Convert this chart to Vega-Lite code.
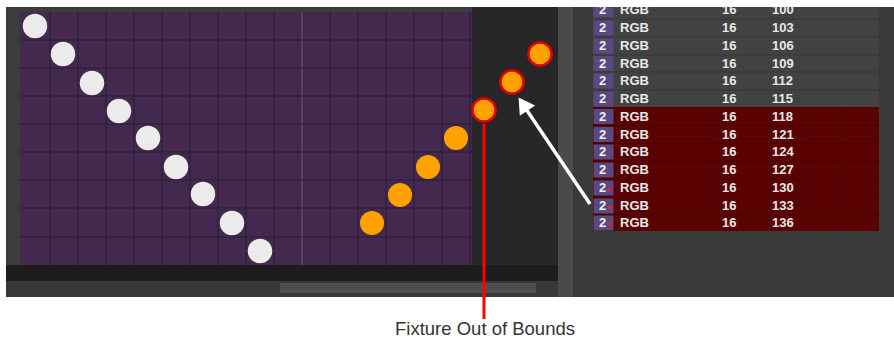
{
  "$schema": "https://vega.github.io/schema/vega-lite/v6.json",
  "width": 894,
  "height": 341,
  "autosize": {"type": "fit", "contains": "padding"},
  "padding": 0,
  "background": "#ffffff",
  "config": {"view": {"stroke": null}},
  "datasets": {
    "areas": [
      {"x": 6, "x2": 894, "y": 7, "y2": 297, "part": "frame"},
      {"x": 6, "x2": 20, "y": 7, "y2": 265, "part": "ruler"},
      {"x": 20, "x2": 472, "y": 7, "y2": 12, "part": "ruler"},
      {"x": 20, "x2": 472, "y": 12, "y2": 265, "part": "canvas"},
      {"x": 6, "x2": 558, "y": 265, "y2": 281, "part": "band"},
      {"x": 6, "x2": 558, "y": 281, "y2": 297, "part": "track"},
      {"x": 280, "x2": 536, "y": 283, "y2": 293, "part": "thumb"},
      {"x": 558, "x2": 573, "y": 7, "y2": 297, "part": "divider"},
      {"x": 573, "x2": 894, "y": 7, "y2": 297, "part": "panel"},
      {"x": 593, "x2": 879, "y": 7, "y2": 107, "part": "grayrows"},
      {"x": 593, "x2": 879, "y": 107, "y2": 231, "part": "redrows"}
    ],
    "gridV": [
      {"x": 50}, {"x": 78}, {"x": 106}, {"x": 134}, {"x": 162}, {"x": 190}, {"x": 218}, {"x": 246},
      {"x": 274}, {"x": 330}, {"x": 358}, {"x": 386}, {"x": 414}, {"x": 442}, {"x": 470}
    ],
    "gridH": [
      {"y": 40}, {"y": 68}, {"y": 96}, {"y": 124}, {"y": 152}, {"y": 180}, {"y": 208}, {"y": 237}
    ],
    "rowLinesGray": [{"y": 19}, {"y": 37}, {"y": 55}, {"y": 72}, {"y": 90}],
    "rowLinesRed": [{"y": 125.5}, {"y": 143.5}, {"y": 161}, {"y": 179}, {"y": 197}, {"y": 214.5}],
    "colLines": [{"x": 717}, {"x": 769}, {"x": 807}, {"x": 844}],
    "whiteDots": [
      {"x": 35, "y": 26}, {"x": 63, "y": 54}, {"x": 92, "y": 83}, {"x": 119, "y": 111},
      {"x": 148, "y": 138}, {"x": 176, "y": 167}, {"x": 203, "y": 194}, {"x": 232, "y": 223}, {"x": 260, "y": 251}
    ],
    "orangeDots": [
      {"x": 372, "y": 223}, {"x": 400, "y": 195}, {"x": 428, "y": 167}, {"x": 456, "y": 138}
    ],
    "outDots": [
      {"x": 484, "y": 110}, {"x": 512, "y": 82}, {"x": 540, "y": 54}
    ],
    "rows": [
      {"n": "2", "type": "RGB", "ch": "16", "addr": "100", "y": 10, "oob": "no"},
      {"n": "2", "type": "RGB", "ch": "16", "addr": "103", "y": 28, "oob": "no"},
      {"n": "2", "type": "RGB", "ch": "16", "addr": "106", "y": 46, "oob": "no"},
      {"n": "2", "type": "RGB", "ch": "16", "addr": "109", "y": 63.5, "oob": "no"},
      {"n": "2", "type": "RGB", "ch": "16", "addr": "112", "y": 81, "oob": "no"},
      {"n": "2", "type": "RGB", "ch": "16", "addr": "115", "y": 99, "oob": "no"},
      {"n": "2", "type": "RGB", "ch": "16", "addr": "118", "y": 116.5, "oob": "no"},
      {"n": "2", "type": "RGB", "ch": "16", "addr": "121", "y": 134.5, "oob": "no"},
      {"n": "2", "type": "RGB", "ch": "16", "addr": "124", "y": 152, "oob": "no"},
      {"n": "2", "type": "RGB", "ch": "16", "addr": "127", "y": 170, "oob": "no"},
      {"n": "2", "type": "RGB", "ch": "16", "addr": "130", "y": 188, "oob": "yes"},
      {"n": "2", "type": "RGB", "ch": "16", "addr": "133", "y": 206, "oob": "yes"},
      {"n": "2", "type": "RGB", "ch": "16", "addr": "136", "y": 223, "oob": "yes"}
    ],
    "arrow": [{"x": 590, "y": 204, "x2": 524, "y2": 106}],
    "arrowHead": [{"x": 523, "y": 104}],
    "boundsLine": [{"x": 484, "y": 124, "y2": 319}],
    "label": [{"x": 485, "y": 329, "text": "Fixture Out of Bounds"}],
    "topMask": [{"x": 0, "x2": 894, "y": 0, "y2": 7}]
  },
  "layer": [
    {
      "data": {"name": "areas"},
      "mark": {"type": "rect"},
      "encoding": {
        "x": {"field": "x", "type": "quantitative", "scale": {"domain": [0, 894], "nice": false, "zero": false}, "axis": null},
        "y": {"field": "y", "type": "quantitative", "scale": {"domain": [0, 341], "nice": false, "zero": false, "reverse": true}, "axis": null},
        "x2": {"field": "x2"},
        "y2": {"field": "y2"},
        "color": {
          "field": "part", "type": "nominal", "legend": null,
          "scale": {
            "domain": ["frame", "ruler", "canvas", "band", "track", "thumb", "divider", "panel", "grayrows", "redrows"],
            "range": ["#272727", "#3b3d3c", "#42294d", "#1d1d1d", "#383838", "#4e4e4e", "#4a4a4a", "#3a3a3a", "#424242", "#5a0202"]
          }
        }
      }
    },
    {
      "data": {"name": "gridV"},
      "mark": {"type": "rule", "color": "#2e1d37", "strokeWidth": 1},
      "encoding": {
        "x": {"field": "x", "type": "quantitative"},
        "y": {"datum": 12, "type": "quantitative"},
        "y2": {"datum": 265}
      }
    },
    {
      "data": {"values": [{"x": 302}]},
      "mark": {"type": "rule", "color": "#6b5a74", "strokeWidth": 1},
      "encoding": {
        "x": {"field": "x", "type": "quantitative"},
        "y": {"datum": 12, "type": "quantitative"},
        "y2": {"datum": 265}
      }
    },
    {
      "data": {"name": "gridH"},
      "mark": {"type": "rule", "color": "#2e1d37", "strokeWidth": 1},
      "encoding": {
        "y": {"field": "y", "type": "quantitative"},
        "x": {"datum": 20, "type": "quantitative"},
        "x2": {"datum": 472}
      }
    },
    {
      "data": {"name": "rowLinesGray"},
      "mark": {"type": "rule", "color": "#363636", "strokeWidth": 1},
      "encoding": {
        "y": {"field": "y", "type": "quantitative"},
        "x": {"datum": 593, "type": "quantitative"},
        "x2": {"datum": 879}
      }
    },
    {
      "data": {"name": "rowLinesRed"},
      "mark": {"type": "rule", "color": "#470000", "strokeWidth": 1},
      "encoding": {
        "y": {"field": "y", "type": "quantitative"},
        "x": {"datum": 593, "type": "quantitative"},
        "x2": {"datum": 879}
      }
    },
    {
      "data": {"name": "colLines"},
      "mark": {"type": "rule", "color": "#4a0a0a", "strokeWidth": 1},
      "encoding": {
        "x": {"field": "x", "type": "quantitative"},
        "y": {"datum": 107, "type": "quantitative"},
        "y2": {"datum": 231}
      }
    },
    {
      "data": {"name": "rows"},
      "mark": {"type": "rect", "width": 20, "height": 15, "color": "#5a4880"},
      "encoding": {
        "x": {"datum": 603.5, "type": "quantitative"},
        "y": {"field": "y", "type": "quantitative"}
      }
    },
    {
      "data": {"name": "rows"},
      "mark": {"type": "text", "font": "Liberation Sans", "fontWeight": "bold", "fontSize": 13, "color": "#f2f2f2", "align": "center", "baseline": "middle"},
      "encoding": {
        "x": {"datum": 602.5, "type": "quantitative"},
        "y": {"field": "y", "type": "quantitative"},
        "text": {"field": "n"}
      }
    },
    {
      "data": {"name": "rows"},
      "transform": [{"filter": "datum.oob == 'yes'"}],
      "mark": {"type": "point", "shape": "triangle-down", "filled": true, "size": 22, "color": "#ff2020", "opacity": 1, "yOffset": 2},
      "encoding": {
        "x": {"datum": 609, "type": "quantitative"},
        "y": {"field": "y", "type": "quantitative"}
      }
    },
    {
      "data": {"name": "rows"},
      "mark": {"type": "text", "font": "Liberation Sans", "fontWeight": "bold", "fontSize": 13, "color": "#e8e8e8", "align": "left", "baseline": "middle"},
      "encoding": {
        "x": {"datum": 620, "type": "quantitative"},
        "y": {"field": "y", "type": "quantitative"},
        "text": {"field": "type"}
      }
    },
    {
      "data": {"name": "rows"},
      "mark": {"type": "text", "font": "Liberation Sans", "fontWeight": "bold", "fontSize": 13, "color": "#e8e8e8", "align": "left", "baseline": "middle"},
      "encoding": {
        "x": {"datum": 722, "type": "quantitative"},
        "y": {"field": "y", "type": "quantitative"},
        "text": {"field": "ch"}
      }
    },
    {
      "data": {"name": "rows"},
      "mark": {"type": "text", "font": "Liberation Sans", "fontWeight": "bold", "fontSize": 13, "color": "#e8e8e8", "align": "left", "baseline": "middle"},
      "encoding": {
        "x": {"datum": 772, "type": "quantitative"},
        "y": {"field": "y", "type": "quantitative"},
        "text": {"field": "addr"}
      }
    },
    {
      "data": {"name": "whiteDots"},
      "mark": {"type": "point", "shape": "circle", "filled": true, "size": 600, "color": "#ebebeb", "opacity": 1},
      "encoding": {
        "x": {"field": "x", "type": "quantitative"},
        "y": {"field": "y", "type": "quantitative"}
      }
    },
    {
      "data": {"name": "orangeDots"},
      "mark": {"type": "point", "shape": "circle", "filled": true, "size": 580, "color": "#ffa200", "opacity": 1},
      "encoding": {
        "x": {"field": "x", "type": "quantitative"},
        "y": {"field": "y", "type": "quantitative"}
      }
    },
    {
      "data": {"name": "boundsLine"},
      "mark": {"type": "rule", "color": "#ff0000", "strokeWidth": 3},
      "encoding": {
        "x": {"field": "x", "type": "quantitative"},
        "y": {"field": "y", "type": "quantitative"},
        "y2": {"field": "y2"}
      }
    },
    {
      "data": {"name": "outDots"},
      "mark": {"type": "point", "shape": "circle", "filled": true, "size": 540, "fill": "#ffa200", "stroke": "#e00000", "strokeWidth": 2.5, "opacity": 1},
      "encoding": {
        "x": {"field": "x", "type": "quantitative"},
        "y": {"field": "y", "type": "quantitative"}
      }
    },
    {
      "data": {"name": "arrow"},
      "mark": {"type": "rule", "color": "#ffffff", "strokeWidth": 3.5},
      "encoding": {
        "x": {"field": "x", "type": "quantitative"},
        "y": {"field": "y", "type": "quantitative"},
        "x2": {"field": "x2"},
        "y2": {"field": "y2"}
      }
    },
    {
      "data": {"name": "arrowHead"},
      "mark": {"type": "point", "shape": "triangle-up", "filled": true, "size": 340, "angle": 326, "color": "#ffffff", "opacity": 1},
      "encoding": {
        "x": {"field": "x", "type": "quantitative"},
        "y": {"field": "y", "type": "quantitative"}
      }
    },
    {
      "data": {"name": "topMask"},
      "mark": {"type": "rect", "color": "#ffffff"},
      "encoding": {
        "x": {"field": "x", "type": "quantitative"},
        "y": {"field": "y", "type": "quantitative"},
        "x2": {"field": "x2"},
        "y2": {"field": "y2"}
      }
    },
    {
      "data": {"name": "label"},
      "mark": {"type": "text", "font": "Liberation Sans", "fontSize": 18.5, "color": "#333333", "align": "center", "baseline": "middle"},
      "encoding": {
        "x": {"field": "x", "type": "quantitative"},
        "y": {"field": "y", "type": "quantitative"},
        "text": {"field": "text"}
      }
    }
  ]
}
